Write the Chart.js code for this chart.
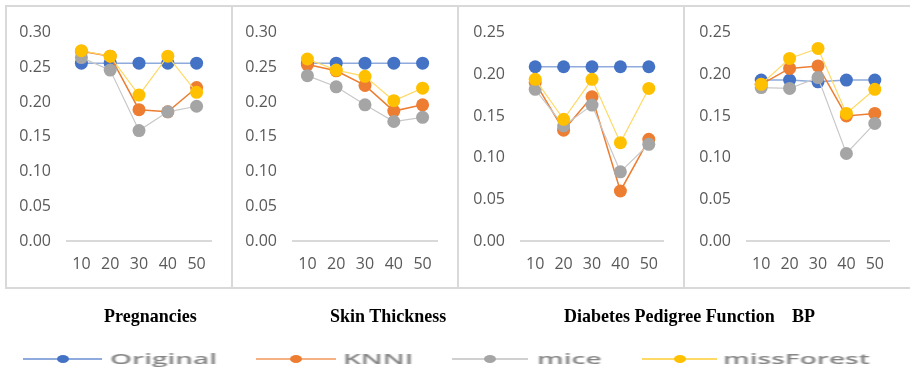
<!DOCTYPE html>
<html>
<head>
<meta charset="utf-8">
<script src="https://cdn.jsdelivr.net/npm/chart.js@4.4.1/dist/chart.umd.min.js"></script>
<style>
  html, body { margin: 0; padding: 0; background: #fff; }
  body { width: 910px; height: 374px; position: relative; overflow: hidden; }
  .abs { position: absolute; }
  .frame { left: 5px; top: 5px; width: 905px; height: 284px; box-sizing: border-box;
           border-top: 2px solid #d9d9d9; border-left: 2px solid #d9d9d9; border-bottom: 2px solid #d9d9d9; }
  .sep { top: 5px; width: 2px; height: 284px; background: #d9d9d9; }
  .title { font-family: "Liberation Serif", "Times New Roman", serif; font-weight: bold; font-size: 18px;
           color: #000; white-space: nowrap; line-height: 22px; top: 305px;
           transform: scaleY(1.08); transform-origin: left center; }
  .lline { height: 2px; top: 358px; filter: blur(0.4px); }
  .ldot { width: 12px; height: 8px; border-radius: 50%; top: 355px; filter: blur(0.4px); }
  .ltext { font-family: "Open Sans", sans-serif; font-weight: 600; font-size: 14px; color: #858585;
           transform: scaleX(2.0); transform-origin: left center; top: 349px; line-height: 20px;
           white-space: nowrap; filter: blur(0.5px); }
</style>
</head>
<body>
<div class="abs frame"></div>
<div class="abs sep" style="left:231px"></div>
<div class="abs sep" style="left:457px"></div>
<div class="abs sep" style="left:683px"></div>

<canvas id="c0" class="abs"></canvas>
<canvas id="c1" class="abs"></canvas>
<canvas id="c2" class="abs"></canvas>
<canvas id="c3" class="abs"></canvas>

<div class="abs title" style="left:104px">Pregnancies</div>
<div class="abs title" style="left:330px">Skin Thickness</div>
<div class="abs title" style="left:564px">Diabetes Pedigree Function</div>
<div class="abs title" style="left:792px">BP</div>

<div id="legend"></div>

<script>
// ---- data ----
const categories = ['10', '20', '30', '40', '50'];
const seriesNames = ['Original', 'KNNI', 'mice', 'missForest'];

const pregOriginal   = [0.256, 0.256, 0.256, 0.256, 0.256];
const pregKNNI       = [0.273, 0.266, 0.189, 0.186, 0.221];
const pregMice       = [0.264, 0.246, 0.159, 0.186, 0.194];
const pregMissForest = [0.274, 0.266, 0.210, 0.266, 0.214];

const skinOriginal   = [0.256, 0.256, 0.256, 0.256, 0.256];
const skinKNNI       = [0.254, 0.245, 0.224, 0.187, 0.196];
const skinMice       = [0.238, 0.222, 0.196, 0.172, 0.178];
const skinMissForest = [0.262, 0.246, 0.237, 0.202, 0.220];

const dpfOriginal    = [0.209, 0.209, 0.209, 0.209, 0.209];
const dpfKNNI        = [0.190, 0.133, 0.173, 0.060, 0.122];
const dpfMice        = [0.182, 0.138, 0.163, 0.083, 0.116];
const dpfMissForest  = [0.194, 0.146, 0.194, 0.118, 0.183];

const bpOriginal     = [0.193, 0.193, 0.191, 0.193, 0.193];
const bpKNNI         = [0.188, 0.207, 0.210, 0.150, 0.153];
const bpMice         = [0.184, 0.183, 0.196, 0.105, 0.141];
const bpMissForest   = [0.188, 0.219, 0.231, 0.153, 0.182];

const panelMax = [0.30, 0.30, 0.25, 0.25];
const panelSeries = [
  [pregOriginal, pregKNNI, pregMice, pregMissForest],
  [skinOriginal, skinKNNI, skinMice, skinMissForest],
  [dpfOriginal, dpfKNNI, dpfMice, dpfMissForest],
  [bpOriginal, bpKNNI, bpMice, bpMissForest]
];

// ---- styles ----
const pointColors = ['#4472c4', '#ed7d31', '#a5a5a5', '#ffc000'];
const lineColors  = ['#8faadc', '#ed7d31', '#c8c8c8', '#ffd966'];
const lineWidths  = [1.5, 1.5, 1.2, 1.2];

// geometry (page coords)
const panelLeft  = [5, 231, 457, 683];
const areaLeft   = [67, 293, 521, 747];
const areaRight  = [211, 437, 663, 889];
const canvasTop = 7, canvasBottom = 286, axisY = 241, topTickY = 27;

Chart.defaults.font.family = '"Open Sans", sans-serif';

for (let p = 0; p < 4; p++) {
  const cv = document.getElementById('c' + p);
  const cLeft = panelLeft[p] + 2;
  const cRight = (p < 3 ? panelLeft[p + 1] : 910);
  const w = cRight - cLeft, h = canvasBottom - canvasTop;
  cv.width = w; cv.height = h;
  cv.style.left = cLeft + 'px'; cv.style.top = canvasTop + 'px';
  cv.style.width = w + 'px'; cv.style.height = h + 'px';

  const datasets = seriesNames.map((name, i) => ({
    label: name,
    data: panelSeries[p][i],
    borderColor: lineColors[i],
    borderWidth: lineWidths[i],
    backgroundColor: pointColors[i],
    pointBackgroundColor: pointColors[i],
    pointBorderWidth: 0,
    pointRadius: 6.5,
    pointHoverRadius: 6.5,
    tension: 0,
    fill: false,
    order: 4 - i
  }));

  new Chart(cv, {
    type: 'line',
    data: { labels: categories, datasets },
    options: {
      responsive: false,
      devicePixelRatio: 1,
      animation: false,
      events: [],
      layout: { padding: { top: topTickY - canvasTop, right: cRight - areaRight[p], left: 0, bottom: 0 } },
      plugins: { legend: { display: false }, tooltip: { enabled: false } },
      scales: {
        x: {
          offset: true,
          grid: { display: false, drawTicks: false },
          border: { display: true, color: '#d9d9d9', width: 2 },
          ticks: { color: '#595959', font: { size: 16 }, padding: 14, maxRotation: 0 },
          afterFit: s => { s.height = canvasBottom - axisY; }
        },
        y: {
          min: 0, max: panelMax[p],
          grid: { display: false, drawTicks: false },
          border: { display: false },
          ticks: { stepSize: 0.05, color: '#595959', font: { size: 16 }, padding: 16,
                   callback: v => v.toFixed(2) },
          afterFit: s => { s.width = areaLeft[p] - cLeft; }
        }
      }
    }
  });
}

// ---- legend (HTML) ----
const legendLine = [[23, 102], [256, 336], [452, 528], [642, 717]];
const legendText = [110, 343, 537, 723];
const legendLineColors = ['#8faadc', '#f4b183', '#d0d0d0', '#ffd966'];
const lg = document.getElementById('legend');
seriesNames.forEach((name, i) => {
  const [a, b] = legendLine[i];
  const ln = document.createElement('div');
  ln.className = 'abs lline';
  ln.style.left = a + 'px'; ln.style.width = (b - a) + 'px'; ln.style.background = legendLineColors[i];
  lg.appendChild(ln);
  const dt = document.createElement('div');
  dt.className = 'abs ldot';
  dt.style.left = ((a + b) / 2 - 6) + 'px'; dt.style.background = pointColors[i];
  lg.appendChild(dt);
  const tx = document.createElement('div');
  tx.className = 'abs ltext';
  tx.style.left = legendText[i] + 'px';
  tx.textContent = name;
  lg.appendChild(tx);
});
</script>
</body>
</html>
